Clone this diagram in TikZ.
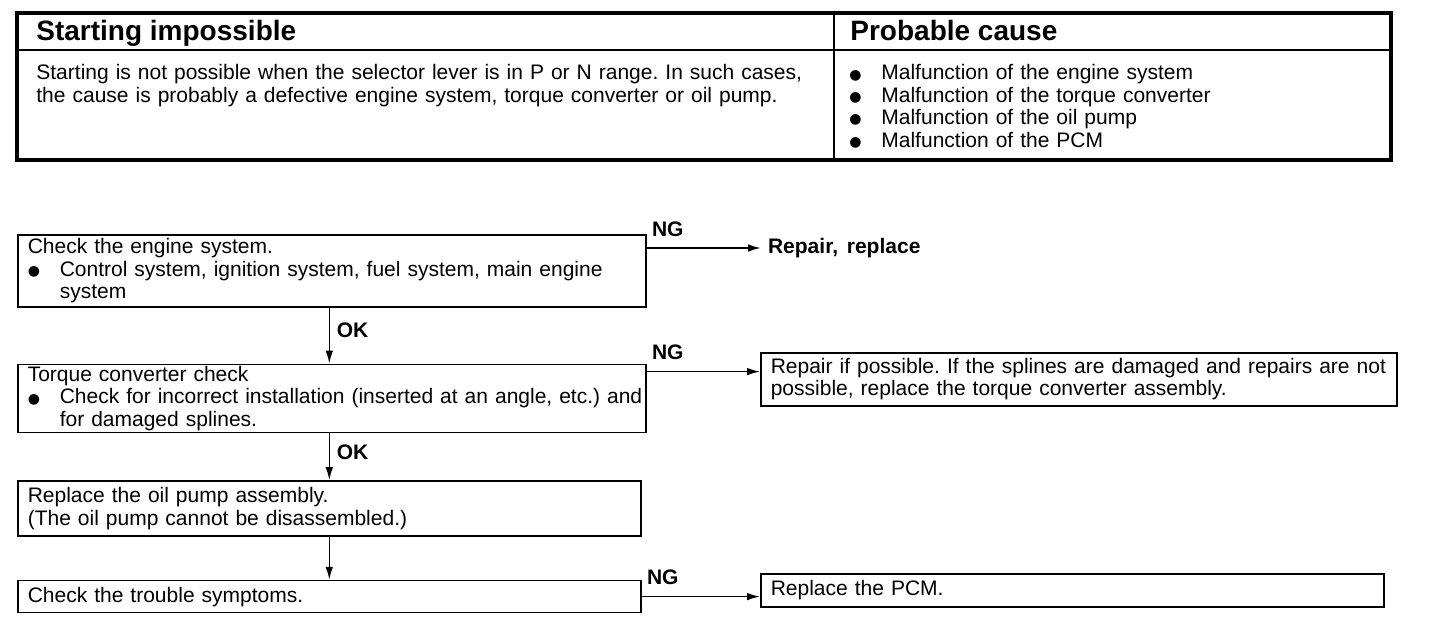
\documentclass[tikz,border=0pt]{standalone}
\usepackage{fontspec}
\setmainfont{Liberation Sans}
\newfontfamily\symfont{DejaVu Sans}
\usetikzlibrary{arrows.meta,positioning,calc}
\newcommand{\bodyfont}{\fontsize{10.5pt}{11.2pt}\selectfont\frenchspacing\spaceskip=4.4pt plus 2pt minus 1pt\relax}
\newcommand{\blt}{\makebox[16pt][l]{\raisebox{0.4pt}{\symfont\scriptsize ●}}}
\tikzset{
  box/.style={draw, line width=0.8pt, align=left, inner xsep=5pt, inner ysep=0pt, font=\bodyfont},
  txt/.style={anchor=base west, align=left, inner sep=0pt, text width=420pt, font=\bodyfont},
  hdr/.style={anchor=base west, inner sep=0pt, font=\fontsize{14pt}{16pt}\selectfont\bfseries},
  lbl/.style={font=\bodyfont\bfseries},
  arr/.style={-{Latex[length=6.5pt,width=3.8pt]}, line width=0.8pt},
}
\begin{document}
\begin{tikzpicture}[x=0.5pt, y=-0.5pt]
\useasboundingbox[fill=white] (0,0) rectangle (1440,626);
% table
\draw[line width=1pt] (17,50) -- (1391,50) (834,13) -- (834,160);
\draw[line width=1.6pt] (17,13) rectangle (1391,160);
\node[hdr] (h1) at (36,41) {Starting impossible};
\node[hdr] (h2) at (850,41) {Probable cause};
\node[txt] (c1) at (36,80) {\mbox{Starting is not possible when the selector lever is in P or N range. In such cases,}\\
  the cause is probably a defective engine system, torque converter or oil pump.};
\node[txt, text width=260pt] (c2) at (849,80) {\blt Malfunction of the engine system\\
  \blt Malfunction of the torque converter\\
  \blt Malfunction of the oil pump\\
  \blt Malfunction of the PCM};
% flow
\node[box, anchor=north west, minimum width=314pt, minimum height=36pt, text width=304pt] (b1) at (17,234)
  {Check the engine system.\\ \mbox{\blt Control system, ignition system, fuel system, main engine}\\ \hspace*{16pt}system};
\node[box, below=28pt of b1.south west, anchor=north west, minimum width=314pt, minimum height=34pt, text width=304pt] (b2)
  {Torque converter check\\ \mbox{\blt Check for incorrect installation (inserted at an angle, etc.) and}\\ \hspace*{16pt}for damaged splines.};
\node[box, below=23.5pt of b2.south west, anchor=north west, minimum width=311.5pt, minimum height=27.5pt, text width=301.5pt] (b3)
  {Replace the oil pump assembly.\\ (The oil pump cannot be disassembled.)};
\node[box, below=21.5pt of b3.south west, anchor=north west, minimum width=311.5pt, minimum height=16pt, text width=301.5pt] (b4)
  {Check the trouble symptoms.};
\node[lbl, anchor=west] (r1) at (761,248) {Repair, replace};
\node[box, anchor=north west, minimum width=318pt, minimum height=26.5pt, text width=308pt] (t2) at (760,352)
  {\mbox{Repair if possible. If the splines are damaged and repairs are not}\\ possible, replace the torque converter assembly.};
\node[box, anchor=north west, minimum width=311.5pt, minimum height=16.5pt, text width=301.5pt] (t4) at (760,573)
  {Replace the PCM.};
% OK arrows
\draw[arr] (b1.south -| b3.north) -- node[lbl, right, pos=0.4] (ok1) {OK} (b2.north -| b3.north);
\draw[arr] (b2.south -| b3.north) -- node[lbl, right, pos=0.4] (ok2) {OK} (b3.north);
\draw[arr] (b3.south) -- (b4.north);
% NG arrows
\coordinate (ng1) at ($(b1.north east)+(0,14)$);
\coordinate (ng2) at ($(b2.north east)+(0,8)$);
\draw[arr] (ng1) node[lbl, above right, yshift=2pt, xshift=-1pt] (n1) {NG} -- (r1.west);
\draw[arr] (ng2) node[lbl, above right, yshift=2pt, xshift=-1pt] (n2) {NG} -- (ng2 -| t2.west);
\draw[arr] (b4.east) node[lbl, above right, yshift=2pt, xshift=-1pt] (n4) {NG} -- (b4.east -| t4.west);
\end{tikzpicture}
\end{document}
